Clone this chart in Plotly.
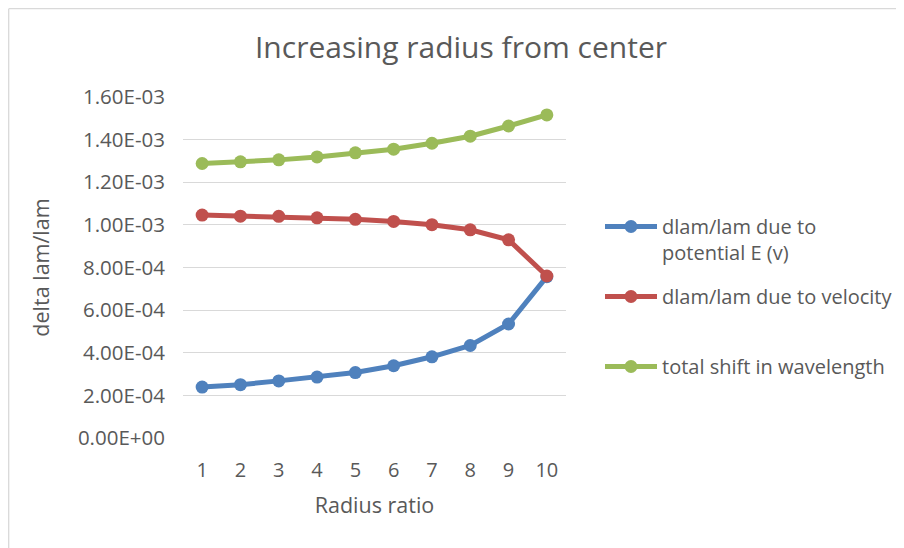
import plotly.graph_objects as go

radius_ratio = ["1", "2", "3", "4", "5", "6", "7", "8", "9", "10"]
potential_shift = [2.39e-4, 2.50e-4, 2.68e-4, 2.86e-4, 3.07e-4, 3.39e-4, 3.81e-4, 4.34e-4, 5.35e-4, 7.57e-4]
velocity_shift = [1.046e-3, 1.041e-3, 1.040e-3, 1.033e-3, 1.026e-3, 1.016e-3, 1.001e-3, 0.977e-3, 0.930e-3, 0.760e-3]
total_shift = [1.288e-3, 1.296e-3, 1.305e-3, 1.319e-3, 1.338e-3, 1.355e-3, 1.383e-3, 1.416e-3, 1.464e-3, 1.516e-3]
series_names = ["dlam/lam due to<br>potential E (v)", "dlam/lam due to velocity<br> ", "total shift in wavelength"]
y_ticks = [0, 2e-4, 4e-4, 6e-4, 8e-4, 1.0e-3, 1.2e-3, 1.4e-3, 1.6e-3]
y_tick_labels = ["0.00E+00", "2.00E-04", "4.00E-04", "6.00E-04", "8.00E-04", "1.00E-03", "1.20E-03", "1.40E-03", "1.60E-03"]

FONT = "Open Sans"
TXT = "#595959"
colors = ["#4F81BD", "#C0504D", "#9BBB59"]

fig = go.Figure()
for name, vals, col in zip(series_names, [potential_shift, velocity_shift, total_shift], colors):
    fig.add_trace(go.Scatter(
        x=radius_ratio, y=vals, name=name, mode="lines+markers",
        line=dict(color=col, width=5),
        marker=dict(color=col, size=13),
        legendgroup=name,
    ))

OFF = 8  # page body margin
W, H = 904, 548
L, T = 183 - OFF, 97 - OFF
pw, ph = 383, 341
R, B = W - L - pw, H - T - ph

def px_x(p):
    return (p - OFF - L) / pw

def px_y(p):
    return (T + OFF + ph - p) / ph

border = dict(color="#D9D9D9", width=1.3)

fig.update_layout(
    width=W, height=H,
    margin=dict(l=L, r=R, t=T, b=B, autoexpand=False),
    paper_bgcolor="white", plot_bgcolor="white",
    font=dict(family=FONT, color=TXT, size=20),
    title=dict(text="Increasing radius from center", x=px_x(461), xanchor="center",
               xref="paper", y=1 - (47 - OFF) / H, yanchor="middle",
               font=dict(size=30, color=TXT, family=FONT)),
    xaxis=dict(type="category", range=[-0.5, 9.5], showgrid=False, showline=False, zeroline=False,
               ticks="", ticklabelstandoff=18, tickfont=dict(size=20, color=TXT),
               title=dict(text="Radius ratio", font=dict(size=21.5, color=TXT), standoff=15)),
    yaxis=dict(range=[0, 1.6e-3], tickvals=y_ticks, ticktext=y_tick_labels,
               showgrid=True, gridcolor="#D9D9D9", gridwidth=1.3, zeroline=False,
               showline=False, ticks="", ticklabelstandoff=17, tickfont=dict(size=20.5, color=TXT),
               title=dict(text="delta lam/lam", font=dict(size=21.5, color=TXT), standoff=22)),
    legend=dict(x=px_x(600), xanchor="left", y=px_y(207), yanchor="top",
                font=dict(size=20, color=TXT), bgcolor="rgba(0,0,0,0)",
                itemwidth=52, valign="top", traceorder="grouped", tracegroupgap=15),
    showlegend=True,
    shapes=[
        dict(type="line", xref="paper", yref="paper",
             x0=px_x(OFF + 0.7), x1=px_x(OFF + 0.7), y0=px_y(OFF + 0.7), y1=px_y(900),
             line=border, layer="below"),
        dict(type="line", xref="paper", yref="paper",
             x0=px_x(OFF + 0.7), x1=px_x(1200), y0=px_y(OFF + 0.7), y1=px_y(OFF + 0.7),
             line=border, layer="below"),
    ],
)

fig.write_html("out.html")
